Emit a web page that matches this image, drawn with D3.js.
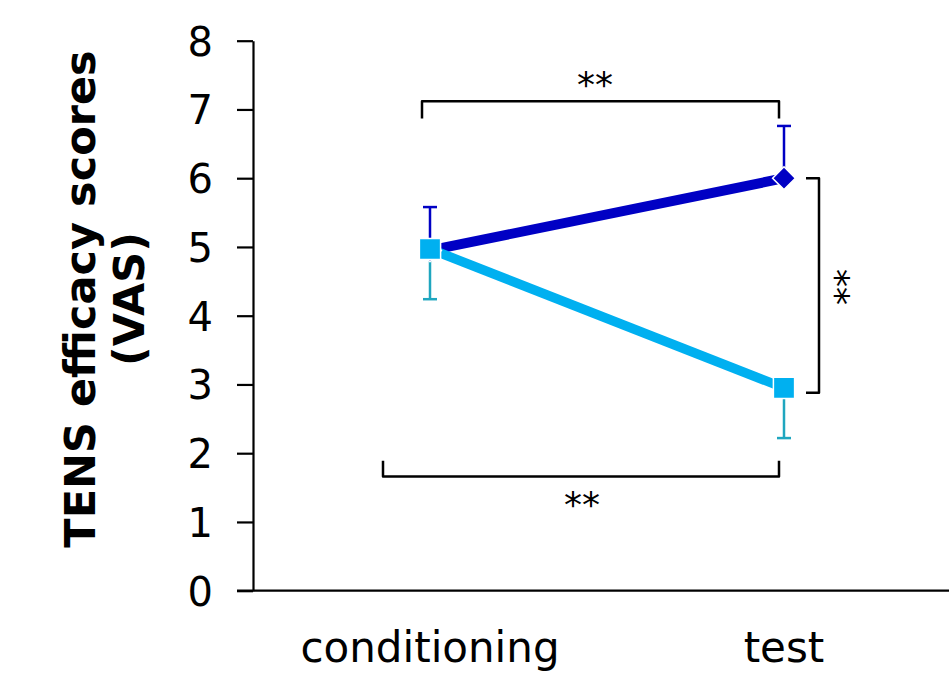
<!DOCTYPE html>
<html>
<head>
<meta charset="utf-8">
<script src="https://cdn.jsdelivr.net/npm/d3@7"></script>
<style>
  html, body { margin: 0; padding: 0; background: #fff; }
  svg { display: block; }
</style>
</head>
<body>
<svg id="chart" width="949" height="681"></svg>
<script>
// ---- data ----
const categories = ["conditioning", "test"];
const darkMeans = [4.95, 6.0];      // diamond series
const darkErr   = [0.63, 0.76];     // upper error shown
const lightMeans = [4.97, 2.95];    // square series
const lightErr   = [0.73, 0.73];    // lower error shown
const yTicks = [0, 1, 2, 3, 4, 5, 6, 7, 8];
const yTitle = ["TENS efficacy scores", "(VAS)"];
const sigLabel = "**";

const svg = d3.select("#chart");
const font = "DejaVu Sans, Verdana, sans-serif";

const y = d3.scaleLinear().domain([0, 8]).range([590.7, 40.7]);
const x = d3.scalePoint().domain(categories).range([253, 961]).padding(0.5);

const DARK = "#0000c4";
const LIGHT = "#00b0f0";
const LIGHT_ERR = "#1fa6bf";

// ---- axes ----
const yAxis = svg.append("g").attr("transform", "translate(253,0)")
  .call(d3.axisLeft(y).tickValues(yTicks).tickSize(16).tickPadding(24).tickSizeOuter(0));
yAxis.select(".domain").attr("stroke", "#000").attr("stroke-width", 2.2);
yAxis.selectAll(".tick line").attr("stroke", "#000").attr("stroke-width", 2.2);
yAxis.selectAll(".tick text").attr("font-family", font).attr("font-size", 40).attr("fill", "#000")
  .attr("dy", "0.36em");

// x axis line
svg.append("line").attr("x1", 237).attr("x2", 949).attr("y1", y(0)).attr("y2", y(0))
  .attr("stroke", "#000").attr("stroke-width", 2.2);

// x labels
svg.selectAll(".xlab").data(categories).enter().append("text")
  .attr("x", d => x(d)).attr("y", 662)
  .attr("text-anchor", "middle")
  .attr("font-family", font).attr("font-size", 42).attr("fill", "#000")
  .text(d => d);

// y title
const yt = svg.append("text")
  .attr("transform", "translate(0,299) rotate(-90)")
  .attr("text-anchor", "middle")
  .attr("font-family", font).attr("font-weight", "bold").attr("font-size", 43).attr("fill", "#000");
yt.append("tspan").attr("x", 0).attr("y", 95).text(yTitle[0]);
yt.append("tspan").attr("x", 0).attr("y", 144).text(yTitle[1]);

// ---- error bars ----
const capW = 14;
function errBar(cat, from, to, color) {
  const g = svg.append("g");
  g.append("line").attr("x1", x(cat)).attr("x2", x(cat)).attr("y1", y(from)).attr("y2", y(to))
    .attr("stroke", color).attr("stroke-width", 2.5);
  g.append("line").attr("x1", x(cat) - capW / 2).attr("x2", x(cat) + capW / 2)
    .attr("y1", y(to)).attr("y2", y(to)).attr("stroke", color).attr("stroke-width", 2.5);
}
categories.forEach((c, i) => {
  errBar(c, darkMeans[i], darkMeans[i] + darkErr[i], DARK);
  errBar(c, lightMeans[i], lightMeans[i] - lightErr[i], LIGHT_ERR);
});

// ---- lines ----
const line = d3.line().x(d => x(d.c)).y(d => y(d.v));
const darkData = categories.map((c, i) => ({ c, v: darkMeans[i] }));
const lightData = categories.map((c, i) => ({ c, v: lightMeans[i] }));

svg.append("path").datum(darkData).attr("d", line)
  .attr("fill", "none").attr("stroke", DARK).attr("stroke-width", 10);
svg.append("path").datum(lightData).attr("d", line)
  .attr("fill", "none").attr("stroke", LIGHT).attr("stroke-width", 9.5);

// ---- markers ----
svg.selectAll(".diamond").data(darkData).enter().append("path")
  .attr("d", d3.symbol().type(d3.symbolSquare).size(260))
  .attr("transform", d => `translate(${x(d.c)},${y(d.v)}) rotate(45)`)
  .attr("fill", DARK).attr("stroke", "#fff").attr("stroke-width", 1.5);

svg.selectAll(".square").data(lightData).enter().append("path")
  .attr("d", d3.symbol().type(d3.symbolSquare).size(450))
  .attr("transform", d => `translate(${x(d.c)},${y(d.v)})`)
  .attr("fill", LIGHT).attr("stroke", "#fff").attr("stroke-width", 1.5);

// ---- significance brackets ----
const bk = { stroke: "#000", "stroke-width": 2.5, fill: "none", "stroke-linejoin": "round" };
function bracket(d) {
  const p = svg.append("path").attr("d", d);
  Object.entries(bk).forEach(([k, v]) => p.attr(k, v));
}
// top: conditioning vs test (dark)
bracket(`M${x("conditioning") - 8},${y(6.87)} V${y(7.12)} H${x("test") - 5} V${y(6.87)}`);
svg.append("text").attr("x", 595).attr("y", 97)
  .attr("text-anchor", "middle").attr("font-family", font).attr("font-size", 36).text(sigLabel);

// bottom: conditioning vs test (light)
bracket(`M${x("conditioning") - 47},${y(1.89)} V${y(1.66)} H${x("test") - 5} V${y(1.89)}`);
svg.append("text").attr("x", 582).attr("y", 517)
  .attr("text-anchor", "middle").attr("font-family", font).attr("font-size", 36).text(sigLabel);

// right: dark vs light at test
bracket(`M${x("test") + 22},${y(6.0)} H${x("test") + 35} V${y(2.88)} H${x("test") + 22}`);
svg.append("text").attr("transform", `translate(824,287) rotate(90)`)
  .attr("text-anchor", "middle").attr("font-family", font).attr("font-size", 36).text(sigLabel);
</script>
</body>
</html>
